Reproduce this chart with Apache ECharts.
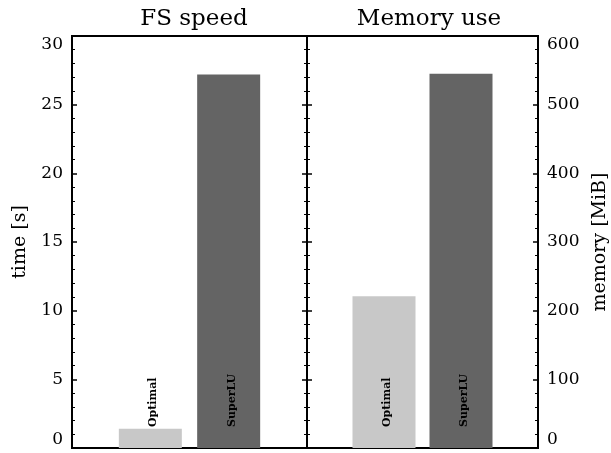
<!DOCTYPE html>
<html lang="en">
<head>
    <meta charset="UTF-8">
    <title>FS speed / Memory use</title>
    <script src="https://cdn.jsdelivr.net/npm/echarts@6/dist/echarts.min.js"></script>
    <style>
        body, html {
            margin: 0;
            padding: 0;
            width: 100%;
            height: 100%;
            overflow: hidden;
            background-color: #fff;
        }
        #container {
            width: 611px;
            height: 453px;
        }
    </style>
</head>
<body>
    <div id="container"></div>
    <script>
        // data
        var methods = ['Optimal', 'SuperLU'];
        var timeSec = [1.4, 27.2];
        var memoryMiB = [221, 545];
        var timeTicks = [0, 5, 10, 15, 20, 25, 30];
        var memoryTicks = [0, 100, 200, 300, 400, 500, 600];
        var panelTitles = ['FS speed', 'Memory use'];

        var barColors = ['#c8c8c8', '#646464'];
        var font = 'DejaVu Serif';

        function xAxisFor(grid) {
            return {
                type: 'value', gridIndex: grid, min: 0, max: methods.length + 1,
                axisLine: { show: false }, axisTick: { show: false },
                axisLabel: { show: false }, splitLine: { show: false }
            };
        }

        // y axis: ticks pointing inward, labels optional
        function yAxisFor(grid, pos, ticks, withLabels, name) {
            var step = ticks[1] - ticks[0];
            return {
                type: 'value', gridIndex: grid, position: pos,
                min: ticks[0], max: ticks[ticks.length - 1], interval: step,
                name: name || '',
                nameLocation: 'middle',
                nameRotate: 90,
                nameGap: pos === 'left' ? 42 : 53,
                nameTextStyle: { fontFamily: font, fontSize: 19, color: '#000' },
                axisLine: { show: false },
                axisTick: { show: true, inside: true, length: 5, lineStyle: { color: '#000', width: 1.5 } },
                minorTick: { show: true, splitNumber: 5, length: 3, lineStyle: { color: '#000', width: 1 } },
                axisLabel: {
                    show: withLabels, margin: 9,
                    fontFamily: font, fontSize: 17, color: '#000',
                    verticalAlignMinLabel: 'bottom', verticalAlignMaxLabel: 'top'
                },
                splitLine: { show: false }
            };
        }

        function barSeries(grid, values) {
            return {
                type: 'bar', xAxisIndex: grid, yAxisIndex: grid * 2,
                barWidth: 63,
                data: values.map(function (v, i) {
                    return { value: [i + 1, v], itemStyle: { color: barColors[i] } };
                }),
                label: {
                    show: true, position: 'insideBottom', distance: 21,
                    rotate: 90, align: 'left', verticalAlign: 'middle', offset: [0, 3],
                    fontFamily: font, fontWeight: 'bold', fontSize: 11, color: '#000',
                    formatter: function (p) { return methods[p.dataIndex]; }
                },
                silent: true, animation: false
            };
        }

        var gridBox = { show: true, borderColor: '#000', borderWidth: 2, backgroundColor: 'transparent', top: 36, bottom: 5 };

        var option = {
            backgroundColor: '#fff',
            animation: false,
            title: panelTitles.map(function (t, i) {
                return {
                    text: t, left: i === 0 ? 189 : 424, top: 3, textAlign: 'center',
                    textStyle: { fontFamily: font, fontWeight: 'normal', fontSize: 23, color: '#000' }
                };
            }),
            grid: [
                Object.assign({}, gridBox, { left: 72, right: 304 }),
                Object.assign({}, gridBox, { left: 307, right: 69 })
            ],
            xAxis: [xAxisFor(0), xAxisFor(1)],
            yAxis: [
                yAxisFor(0, 'left', timeTicks, true, 'time [s]'),
                yAxisFor(0, 'right', timeTicks, false),
                yAxisFor(1, 'left', memoryTicks, false),
                yAxisFor(1, 'right', memoryTicks, true, 'memory [MiB]')
            ],
            series: [barSeries(0, timeSec), barSeries(1, memoryMiB)]
        };

        var chart = echarts.init(document.getElementById('container'));
        chart.setOption(option);
    </script>
</body>
</html>
